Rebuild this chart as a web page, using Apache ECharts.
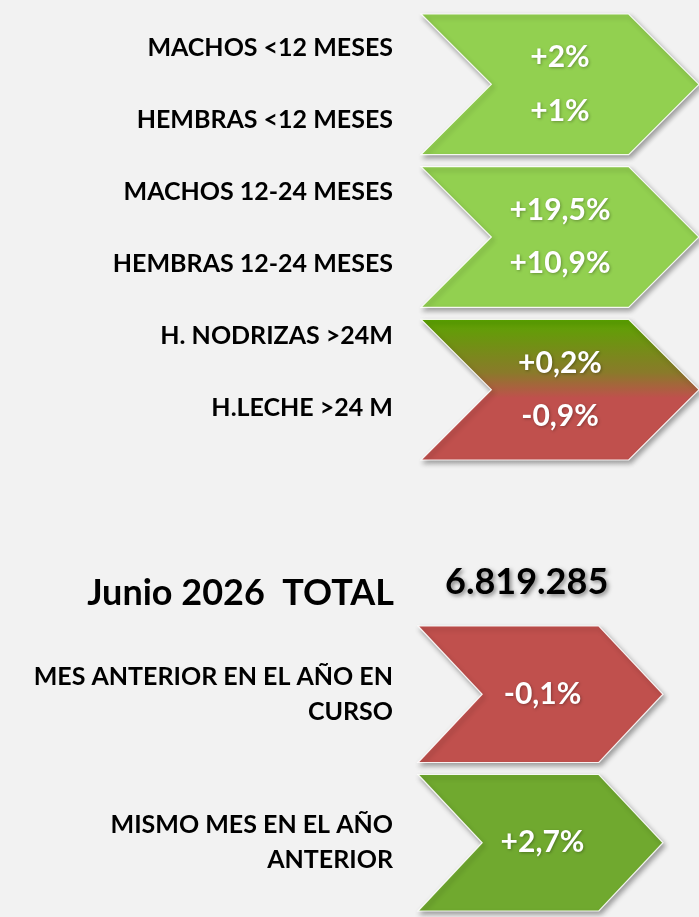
<!DOCTYPE html>
<html>
<head>
<meta charset="utf-8">
<title>Censo bovino - variaciones</title>
<script src="https://cdn.jsdelivr.net/npm/echarts@6/dist/echarts.min.js"></script>
<style>
    html, body { margin: 0; padding: 0; background: #f2f2f2; }
    #chart { width: 699px; height: 917px; }
</style>
</head>
<body>
<div id="chart"></div>
<script>
    // categorias y variaciones (%)
    var topLabels = ['MACHOS <12 MESES', 'HEMBRAS <12 MESES', 'MACHOS 12-24 MESES',
        'HEMBRAS 12-24 MESES', 'H. NODRIZAS >24M', 'H.LECHE >24 M'];
    var topValues = [2, 1, 19.5, 10.9, 0.2, -0.9];
    var topGroups = ['<12 meses', '12-24 meses', '>24 meses'];

    var totalLabel = 'Junio 2026  TOTAL';
    var totalValue = 6819285;

    var bottomLabels = ['MES ANTERIOR EN EL AÑO EN\nCURSO', 'MISMO MES EN EL AÑO\nANTERIOR'];
    var bottomValues = [-0.1, 2.7];

    var GREEN_LIGHT = '#92d050', GREEN_DARK = '#70a92f', RED = '#c0504d';
    var FONT = 'Lato, "Open Sans", sans-serif';

    function pct(v) {
        return (v > 0 ? '+' : '') + String(v).replace('.', ',') + '%';
    }
    function miles(v) {
        return String(v).replace(/\B(?=(\d{3})+(?!\d))/g, '.');
    }

    // flecha tipo chevron dentro de la caja x,y,w,h
    function chevron(x, y, w, h, ratio) {
        var d = h * ratio;
        return [[x, y], [x + w - d, y], [x + w, y + h / 2], [x + w - d, y + h],
            [x, y + h], [x + d, y + h / 2]];
    }

    var mixFill = new echarts.graphic.LinearGradient(0, 0, 0, 1, [
        {offset: 0, color: '#5aa500'},
        {offset: 0.38, color: '#8a7a2a'},
        {offset: 0.56, color: '#c0504d'},
        {offset: 1, color: '#c0504d'}
    ]);
    var topFills = [GREEN_LIGHT, GREEN_LIGHT, mixFill];

    var shapeStyle = {
        stroke: 'rgba(255,255,255,0.9)',
        lineWidth: 1.2,
        shadowBlur: 5,
        shadowColor: 'rgba(0,0,0,0.35)',
        shadowOffsetX: 2,
        shadowOffsetY: 3
    };

    function valueText(x, y, text) {
        return {
            type: 'text',
            style: {
                x: x, y: y, text: text,
                fill: '#fff',
                font: 'bold 30px ' + FONT,
                align: 'center',
                verticalAlign: 'middle',
                textShadowColor: 'rgba(0,0,0,0.3)',
                textShadowBlur: 3,
                textShadowOffsetX: 1,
                textShadowOffsetY: 1
            }
        };
    }

    function renderTop(params, api) {
        var i = params.dataIndex;
        var cs = params.coordSys;
        var cy = api.coord([0, api.value(1)])[1];
        var band = api.size([0, 1])[1];
        var h = band - 12;
        var cx = cs.x + cs.width / 2;
        var off = band * 0.174;
        return {
            type: 'group',
            children: [
                {
                    type: 'polygon',
                    shape: {points: chevron(cs.x, cy - h / 2, cs.width, h, 0.5)},
                    style: Object.assign({fill: topFills[i]}, shapeStyle)
                },
                valueText(cx, cy - off, pct(topValues[i * 2])),
                valueText(cx, cy + off, pct(topValues[i * 2 + 1]))
            ]
        };
    }

    function renderBottom(params, api) {
        var i = params.dataIndex;
        var cs = params.coordSys;
        var cy = api.coord([0, api.value(1)])[1];
        var band = api.size([0, 1])[1];
        var h = band - 12;
        var v = bottomValues[i];
        return {
            type: 'group',
            children: [
                {
                    type: 'polygon',
                    shape: {points: chevron(cs.x, cy - h / 2, cs.width, h, 0.47)},
                    style: Object.assign({fill: v < 0 ? RED : GREEN_DARK}, shapeStyle)
                },
                valueText(cs.x + cs.width / 2 + 2, cy, pct(v))
            ]
        };
    }

    var labelStyle = {
        color: '#000',
        fontFamily: FONT,
        fontWeight: 'bold',
        fontSize: 25
    };
    var hiddenX = {type: 'value', min: 0, max: 1, show: false};
    var noLine = {show: false};

    var myChart = echarts.init(document.getElementById('chart'));
    myChart.setOption({
        backgroundColor: '#f2f2f2',
        animation: false,
        title: [
            {
                text: totalLabel,
                right: 300,
                top: 570,
                textStyle: {color: '#000', fontFamily: FONT, fontWeight: 'bold', fontSize: 36}
            },
            {
                text: miles(totalValue),
                left: 440,
                top: 559,
                textStyle: {
                    color: '#000', fontFamily: FONT, fontWeight: 'bold', fontSize: 36,
                    textShadowColor: 'rgba(0,0,0,0.45)', textShadowBlur: 4,
                    textShadowOffsetX: 2, textShadowOffsetY: 2
                }
            }
        ],
        grid: [
            {left: 421, right: 0, top: 8, height: 458},
            {left: 400, width: 10, top: 12, height: 432},
            {left: 418, right: 36, top: 620, height: 297}
        ],
        xAxis: [
            Object.assign({gridIndex: 0}, hiddenX),
            Object.assign({gridIndex: 1}, hiddenX),
            Object.assign({gridIndex: 2}, hiddenX)
        ],
        yAxis: [
            {gridIndex: 0, type: 'category', inverse: true, data: topGroups, show: false},
            {
                gridIndex: 1, type: 'category', inverse: true, data: topLabels,
                axisLine: noLine, axisTick: noLine,
                axisLabel: Object.assign({margin: 7}, labelStyle)
            },
            {
                gridIndex: 2, type: 'category', inverse: true, data: bottomLabels,
                axisLine: noLine, axisTick: noLine,
                axisLabel: Object.assign({margin: 25, lineHeight: 35, align: 'right'}, labelStyle)
            }
        ],
        series: [
            {
                type: 'custom',
                xAxisIndex: 0, yAxisIndex: 0,
                renderItem: renderTop,
                encode: {x: 0, y: 1},
                data: topGroups.map(function (g, i) { return [0, i]; })
            },
            {
                type: 'custom',
                xAxisIndex: 2, yAxisIndex: 2,
                renderItem: renderBottom,
                encode: {x: 0, y: 1},
                data: bottomLabels.map(function (g, i) { return [0, i]; })
            }
        ]
    });
</script>
</body>
</html>
